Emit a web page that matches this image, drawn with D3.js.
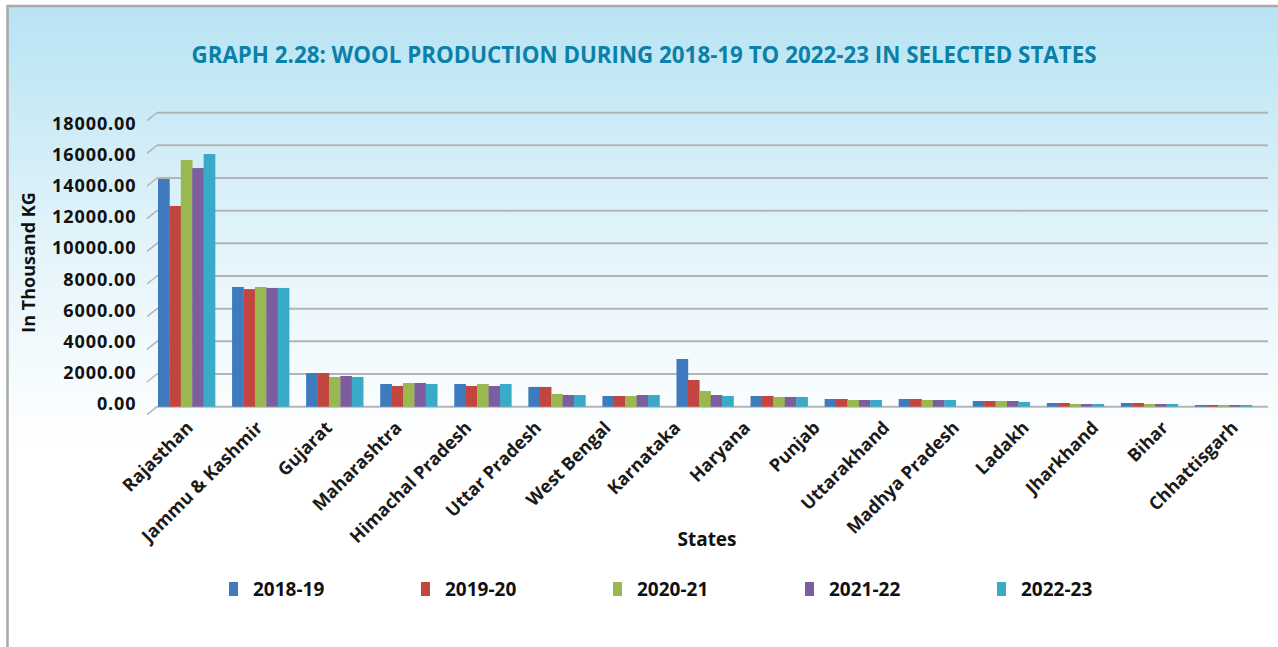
<!DOCTYPE html>
<html>
<head>
<meta charset="utf-8">
<script src="https://cdn.jsdelivr.net/npm/d3@7"></script>
<style>
  html, body { margin: 0; padding: 0; background: #ffffff; }
  svg { display: block; }
</style>
</head>
<body>
<svg id="chart" width="1278" height="647"></svg>
<script>
// ---------------- DATA ----------------
const titleText = "GRAPH 2.28: WOOL PRODUCTION DURING 2018-19 TO 2022-23 IN SELECTED STATES";
const states = ["Rajasthan", "Jammu & Kashmir", "Gujarat", "Maharashtra", "Himachal Pradesh",
  "Uttar Pradesh", "West Bengal", "Karnataka", "Haryana", "Punjab", "Uttarakhand",
  "Madhya Pradesh", "Ladakh", "Jharkhand", "Bihar", "Chhattisgarh"];
const seriesNames = ["2018-19", "2019-20", "2020-21", "2021-22", "2022-23"];
// bar groups as drawn in the picture (15 clusters)
const v2018 = [13940, 7330, 2060, 1390, 1390, 1210, 655, 2920, 655, 470, 470, 350, 225, 225, 105];
const v2019 = [12290, 7200, 2060, 1270, 1270, 1210, 655, 1635, 655, 470, 470, 350, 225, 225, 105];
const v2020 = [15100, 7330, 1820, 1450, 1390, 780, 655, 960, 595, 410, 410, 350, 165, 165, 105];
const v2021 = [14610, 7270, 1880, 1450, 1270, 715, 715, 715, 595, 410, 410, 350, 165, 165, 105];
const v2022 = [15470, 7270, 1820, 1390, 1390, 715, 715, 655, 595, 410, 410, 290, 165, 165, 105];
const yTicks = [0, 2000, 4000, 6000, 8000, 10000, 12000, 14000, 16000, 18000];
const colors = ["#3d7bbe", "#c2453f", "#99b850", "#7c5e9f", "#39aac7"];

const seriesValues = [v2018, v2019, v2020, v2021, v2022];

// ---------------- DRAW ----------------
const svg = d3.select("#chart");
const W = 1278, H = 647;

const defs = svg.append("defs");
const grad = defs.append("linearGradient").attr("id", "bg").attr("x1", 0).attr("y1", 0).attr("x2", 0).attr("y2", 1);
grad.append("stop").attr("offset", "0%").attr("stop-color", "#b8e3f3");
grad.append("stop").attr("offset", "55%").attr("stop-color", "#e3f4fa");
grad.append("stop").attr("offset", "100%").attr("stop-color", "#ffffff");

svg.append("rect").attr("x", 0).attr("y", 0).attr("width", W).attr("height", H).attr("fill", "#ffffff");
svg.append("rect").attr("x", 8).attr("y", 7).attr("width", W - 8).attr("height", 435).attr("fill", "url(#bg)");
// frame
svg.append("line").attr("x1", 7).attr("x2", W).attr("y1", 6).attr("y2", 6).attr("stroke", "#a9a9a9").attr("stroke-width", 2.5);
svg.append("line").attr("x1", 7.5).attr("x2", 7.5).attr("y1", 5).attr("y2", H).attr("stroke", "#a9a9a9").attr("stroke-width", 2.5);

// title
const title = svg.append("text")
  .attr("x", 644).attr("y", 63)
  .attr("text-anchor", "middle")
  .attr("font-family", "'Open Sans', sans-serif")
  .attr("font-weight", 700)
  .attr("font-size", 24)
  .attr("fill", "#0b80a8")
  .text(titleText);
const tl = title.node().getComputedTextLength();
if (tl > 905) title.attr("textLength", 905).attr("lengthAdjust", "spacingAndGlyphs");

// scales
const plotL = 157, plotR = 1268;
const y = d3.scaleLinear().domain([0, 18000]).range([406.7, 112.7]);
const yLab = d3.scaleLinear().domain([0, 18000]).range([403.3, 122.7]);
const x0 = d3.scaleBand().domain(d3.range(v2018.length)).range([158, 1252]).paddingInner(0.23).paddingOuter(0);
const x1 = d3.scaleBand().domain(d3.range(seriesNames.length)).range([0, x0.bandwidth()]).padding(0);
const xLab = d3.scalePoint().domain(states).range([194, 1239]);

// gridlines
const grid = svg.append("g");
grid.selectAll("line.h").data(yTicks).join("line")
  .attr("x1", plotL).attr("x2", plotR)
  .attr("y1", d => y(d)).attr("y2", d => y(d))
  .attr("stroke", "#b4b4b6").attr("stroke-width", 2);
grid.selectAll("line.d").data(yTicks).join("line")
  .attr("x1", plotL - 10).attr("x2", plotL)
  .attr("y1", d => y(d) + 8).attr("y2", d => y(d))
  .attr("stroke", "#b4b4b6").attr("stroke-width", 1.5);

// y tick labels
svg.append("g").selectAll("text").data(yTicks).join("text")
  .attr("x", 136.5).attr("y", d => yLab(d))
  .attr("text-anchor", "end").attr("dominant-baseline", "central")
  .attr("font-family", "'Open Sans', sans-serif").attr("font-weight", 700)
  .attr("font-size", 18).attr("letter-spacing", 0.9)
  .attr("fill", "#111")
  .text(d => d3.format(".2f")(d));

// y axis title
svg.append("text")
  .attr("transform", "translate(28,262.5) rotate(-90)")
  .attr("text-anchor", "middle").attr("dominant-baseline", "central")
  .attr("font-family", "'Open Sans', sans-serif").attr("font-weight", 700)
  .attr("font-size", 18).attr("fill", "#111")
  .text("In Thousand KG");

// bars
const groups = svg.append("g").selectAll("g").data(d3.range(v2018.length)).join("g")
  .attr("transform", i => `translate(${x0(i)},0)`);
groups.selectAll("rect").data(i => seriesValues.map((s, k) => ({ k, v: s[i] }))).join("rect")
  .attr("x", d => x1(d.k))
  .attr("width", x1.bandwidth() + 0.3)
  .attr("y", d => y(d.v))
  .attr("height", d => y(0) - y(d.v))
  .attr("fill", d => colors[d.k]);

// x labels
svg.append("g").selectAll("text").data(states).join("text")
  .attr("transform", d => `translate(${xLab(d)},429) rotate(-45)`)
  .attr("text-anchor", "end")
  .attr("font-family", "'Open Sans', sans-serif").attr("font-weight", 700)
  .attr("font-size", 18).attr("fill", "#1a1a1a")
  .text(d => d);

// x axis title
svg.append("text")
  .attr("x", 707).attr("y", 539)
  .attr("text-anchor", "middle").attr("dominant-baseline", "central")
  .attr("font-family", "'Open Sans', sans-serif").attr("font-weight", 700)
  .attr("font-size", 19).attr("fill", "#111")
  .text("States");

// legend
const leg = svg.append("g").selectAll("g").data(seriesNames).join("g")
  .attr("transform", (d, i) => `translate(${229 + 192 * i},589)`);
leg.append("rect").attr("x", 0).attr("y", -7).attr("width", 9).attr("height", 14)
  .attr("fill", (d, i) => colors[i]);
leg.append("text").attr("x", 24).attr("y", 0)
  .attr("dominant-baseline", "central")
  .attr("font-family", "'Open Sans', sans-serif").attr("font-weight", 700)
  .attr("font-size", 19).attr("fill", "#111")
  .text(d => d);
</script>
</body>
</html>
